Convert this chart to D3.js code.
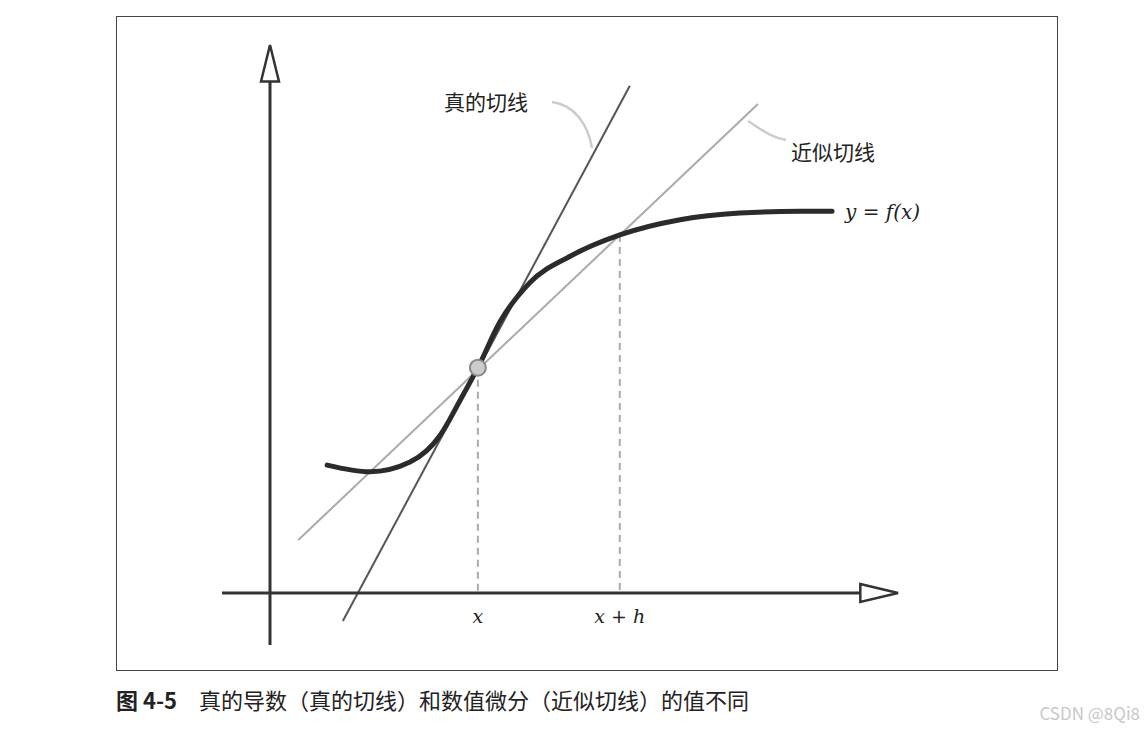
<!DOCTYPE html>
<html><head><meta charset="utf-8">
<script src="https://cdn.jsdelivr.net/npm/d3@7"></script>
<style>body{margin:0;background:#fff}</style>
</head><body><div id="chart"></div>
<script>
// curve y = f(x), in axis units
var curveX = [0.91, 1.59, 2.23, 2.71, 3.03, 3.31, 3.66, 4.14, 4.78, 5.57, 6.53, 7.48, 8.44, 8.95];
var curveY = [2.10, 1.99, 2.15, 2.59, 3.17, 3.70, 4.45, 5.10, 5.53, 5.88, 6.13, 6.24, 6.27, 6.27];
var trueTangent = [[1.16, -0.46], [5.73, 8.33]];
var approxTangent = [[0.45, 0.87], [7.77, 8.03]];
var pointX = 3.31, pointY = 3.70;
var pointXh = 5.57, pointYh = 5.88;
var tickLabels = ["x", "x + h"];

var svg = d3.select('#chart').append('svg').attr('width', 1148).attr('height', 733)
  .style('font-family', '"Noto Sans CJK SC", "Noto Sans", sans-serif');

var x = d3.scaleLinear().domain([0, 10]).range([270, 898]);
var y = d3.scaleLinear().domain([0, 9]).range([593, 45]);

svg.append('rect').attr('x', 116.5).attr('y', 16.5).attr('width', 941).attr('height', 654)
  .attr('fill', 'none').attr('stroke', '#444').attr('stroke-width', 1);

var line = d3.line().x(function(d) { return x(d[0]); }).y(function(d) { return y(d[1]); });

// tangents
svg.append('path').attr('d', line(approxTangent)).attr('stroke', '#aaa').attr('stroke-width', 2).attr('fill', 'none');
svg.append('path').attr('d', line(trueTangent)).attr('stroke', '#555').attr('stroke-width', 2).attr('fill', 'none');

// dashed guides
[[pointX, pointY], [pointXh, pointYh]].forEach(function(p) {
  svg.append('line').attr('x1', x(p[0])).attr('x2', x(p[0])).attr('y1', y(p[1])).attr('y2', y(0))
    .attr('stroke', '#aaa').attr('stroke-width', 2).attr('stroke-dasharray', '7,5');
});

// axes with open arrow heads
svg.append('line').attr('x1', 222).attr('x2', x(9.4)).attr('y1', y(0)).attr('y2', y(0)).attr('stroke', '#333').attr('stroke-width', 3);
svg.append('path').attr('d', 'M' + x(9.4) + ',' + (y(0) - 9) + 'L' + x(10) + ',' + y(0) + 'L' + x(9.4) + ',' + (y(0) + 9) + 'Z')
  .attr('fill', '#fff').attr('stroke', '#333').attr('stroke-width', 2.5);
svg.append('line').attr('x1', x(0)).attr('x2', x(0)).attr('y1', 645).attr('y2', y(8.4)).attr('stroke', '#333').attr('stroke-width', 3);
svg.append('path').attr('d', 'M' + (x(0) - 9) + ',' + y(8.4) + 'L' + x(0) + ',' + y(9) + 'L' + (x(0) + 9) + ',' + y(8.4) + 'Z')
  .attr('fill', '#fff').attr('stroke', '#333').attr('stroke-width', 2.5);

// curve
var pts = d3.zip(curveX, curveY);
svg.append('path').attr('d', line.curve(d3.curveMonotoneX)(pts))
  .attr('stroke', '#2b2b2b').attr('stroke-width', 5).attr('fill', 'none').attr('stroke-linecap', 'round');

svg.append('circle').attr('cx', x(pointX)).attr('cy', y(pointY)).attr('r', 8)
  .attr('fill', '#ccc').attr('stroke', '#888').attr('stroke-width', 2);

// leader lines
svg.append('path').attr('d', 'M552,102 C575,105 588,125 592,148').attr('fill', 'none').attr('stroke', '#ccc').attr('stroke-width', 2.5);
svg.append('path').attr('d', 'M748,121 C762,130 772,138 786,140').attr('fill', 'none').attr('stroke', '#ccc').attr('stroke-width', 2.5);

svg.append('text').attr('x', 444).attr('y', 110).attr('font-size', 21).attr('fill', '#222').text('真的切线');
svg.append('text').attr('x', 791).attr('y', 160).attr('font-size', 21).attr('fill', '#222').text('近似切线');
svg.append('text').attr('x', 845).attr('y', 219).attr('font-size', 20).attr('fill', '#222')
  .attr('font-family', '"DejaVu Serif", serif').attr('font-style', 'italic').text('y = f(x)');

[pointX, pointXh].forEach(function(v, i) {
  svg.append('text').attr('x', x(v)).attr('y', 623).attr('text-anchor', 'middle').attr('font-size', 19)
    .attr('font-family', '"DejaVu Serif", serif').attr('font-style', 'italic').attr('fill', '#222').text(tickLabels[i]);
});

var cap = svg.append('text').attr('x', 116).attr('y', 709).attr('font-size', 22).attr('fill', '#222');
cap.append('tspan').attr('font-weight', 'bold').text('图 4-5');
cap.append('tspan').attr('dx', 22).text('真的导数（真的切线）和数值微分（近似切线）的值不同');

svg.append('text').attr('x', 1140).attr('y', 720).attr('text-anchor', 'end').attr('font-size', 17)
  .attr('fill', '#c8c8c8').text('CSDN @8Qi8');
</script></body></html>
